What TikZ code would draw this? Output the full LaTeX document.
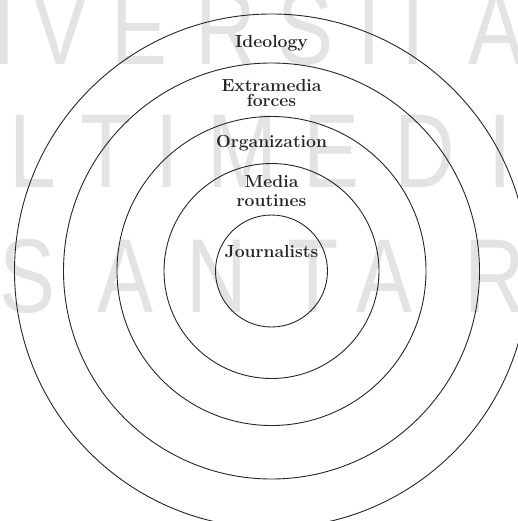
\documentclass[tikz,border=0pt]{standalone}
\usepackage{fontspec}
\newfontfamily\wmfont[FakeStretch=0.8]{Liberation Sans}
\begin{document}
\begin{tikzpicture}[x=1pt,y=-1pt,
  ring/.style={draw=black!85,line width=0.9pt},
  lbl/.style={font=\fontsize{17.5}{16}\selectfont\bfseries,text=black!85,anchor=base,align=center,inner sep=0pt},
  wm/.style={font=\wmfont\fontsize{105}{105}\selectfont,text=black!11,anchor=base,inner sep=0pt}]
\useasboundingbox (0,0) rectangle (518,521);
\begin{scope}
\clip (0,0) rectangle (518,521);
% watermark
\foreach \ch/\x [count=\i] in {I/4,V/61,E/140,R/226,S/306,I/369,T/413,A/497}
  \node[wm] (w1\i) at (\x,65) {\ch};
\foreach \ch/\x [count=\i] in {L/33,T/106,I/167,M/242,E/332,D/425,I/500}
  \node[wm] (w2\i) at (\x,188) {\ch};
\foreach \ch/\x [count=\i] in {S/28,A/126,N/217,T/313,A/385,R/495}
  \node[wm] (w3\i) at (\x,312) {\ch};
% rings
\coordinate (c) at (271.5,271);
\draw[ring] (c) circle[radius=56];
\draw[ring] (c) circle[radius=107.5];
\draw[ring] (c) circle[radius=154.5];
\draw[ring] (c) circle[radius=208];
\draw[ring] (c) circle[radius=257];
\end{scope}
% labels
\node[lbl] (ideo) at (271.5,48) {Ideology};
\node[lbl] (extra) at (271.5,92) {Extramedia};
\node[lbl] (forces) at (271.5,107) {forces};
\node[lbl] (org) at (271.5,148) {Organization};
\node[lbl] (media) at (271.5,188) {Media};
\node[lbl] (rout) at (271.5,207) {routines};
\node[lbl] (jour) at (271.5,257) {Journalists};
\end{tikzpicture}
\end{document}
